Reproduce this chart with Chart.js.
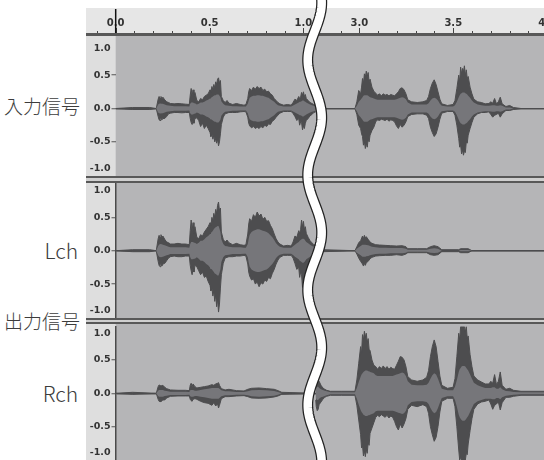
<!DOCTYPE html>
<html>
<head>
<meta charset="utf-8">
<script src="https://cdn.jsdelivr.net/npm/chart.js@4.4.0/dist/chart.umd.min.js"></script>
<style>
  body { margin: 0; background: #fff; }
  #wrap { position: relative; width: 544px; height: 460px; overflow: hidden; background: #fff; }
  #wrap canvas { position: absolute; }
  .lbl { position: absolute; font-family: "Noto Sans CJK JP"; font-weight: 300; color: #3c3c3c; white-space: nowrap; line-height: 1; }
  .bar { position: absolute; left: 86px; width: 458px; }
</style>
</head>
<body>
<div id="wrap">
  <div class="bar" style="top:8px;height:25px;background:#e6e6e6"></div>
  <div class="bar" style="top:33px;height:3px;background:#585858"></div>
  <div class="bar" style="top:176px;height:2px;background:#585858"></div>
  <div class="bar" style="top:178px;height:3px;background:#cfcfcf"></div>
  <div class="bar" style="top:181px;height:2px;background:#585858"></div>
  <div class="bar" style="top:318px;height:2px;background:#585858"></div>
  <div class="bar" style="top:320px;height:2px;background:#cfcfcf"></div>
  <div class="bar" style="top:322px;height:2px;background:#585858"></div>

  <div class="lbl" style="left:4px;top:96px;font-size:19px">入力信号</div>
  <div class="lbl" style="right:466px;top:240px;font-size:21px">Lch</div>
  <div class="lbl" style="left:4px;top:311px;font-size:19px">出力信号</div>
  <div class="lbl" style="right:466px;top:383px;font-size:21px">Rch</div>

  <canvas id="t1" width="474" height="140" style="left:86px;top:36px"></canvas>
  <canvas id="t2" width="474" height="135" style="left:86px;top:183px"></canvas>
  <canvas id="t3" width="474" height="136" style="left:86px;top:324px"></canvas>
  <canvas id="ruler" width="560" height="460" style="left:0;top:0"></canvas>
</div>
<script>
// time axis (seconds); the part between BREAK_FROM and BREAK_TO is cut out
const X_MIN = -0.001, X_MAX = 2.3546;
const BREAK_FROM = 1.06, BREAK_TO = 2.762;

const RULER_TICKS = [-0.1, 0.0, 0.1, 0.2, 0.3, 0.4, 0.5, 0.6, 0.7, 0.8, 0.9, 1.0,
  2.9, 3.0, 3.1, 3.2, 3.3, 3.4, 3.5, 3.6, 3.7, 3.8, 3.9, 4.0];
const RULER_LABEL_TIMES = [0.0, 0.5, 1.0, 3.0, 3.5, 4.0];
const RULER_LABELS = ['0.0', '0.5', '1.0', '3.0', '3.5', '4.0'];

const Y_TICKS = [-1, -0.5, 0, 0.5, 1];
const Y_LABELS = ['-1.0', '-0.5', '0.0', '0.5', '1.0'];

// [time, peak top, peak bottom, rms]
const IN_A = [
  [0.00,0,0,0],[0.09,0.015,0.015,0],[0.18,0.015,0.015,0],[0.215,0,0,0],
  [0.225,0.14,0.12,0.06],[0.23,0.18,0.17,0.07],[0.235,0.15,0.18,0.075],[0.24,0.18,0.14,0.075],
  [0.245,0.14,0.17,0.07],[0.25,0.17,0.15,0.07],[0.26,0.13,0.15,0.06],[0.27,0.10,0.12,0.05],
  [0.28,0.09,0.08,0.045],[0.29,0.075,0.07,0.04],[0.31,0.07,0.06,0.035],[0.33,0.075,0.06,0.035],
  [0.35,0.07,0.065,0.035],[0.37,0.065,0.06,0.035],[0.39,0.06,0.06,0.03],
  [0.395,0.20,0.15,0.07],[0.40,0.30,0.21,0.09],[0.405,0.19,0.24,0.09],[0.41,0.28,0.18,0.09],
  [0.415,0.18,0.22,0.08],[0.42,0.24,0.15,0.08],[0.43,0.12,0.14,0.06],[0.44,0.10,0.18,0.07],
  [0.45,0.15,0.27,0.09],[0.46,0.13,0.22,0.09],[0.47,0.18,0.30,0.10],[0.48,0.20,0.25,0.12],
  [0.49,0.22,0.30,0.13],[0.50,0.28,0.36,0.15],[0.505,0.24,0.42,0.16],[0.51,0.33,0.38,0.17],
  [0.515,0.28,0.46,0.18],[0.52,0.36,0.40,0.19],[0.525,0.31,0.50,0.20],[0.53,0.40,0.45,0.20],
  [0.535,0.36,0.52,0.21],[0.54,0.44,0.46,0.21],[0.545,0.46,0.56,0.21],[0.55,0.38,0.50,0.19],
  [0.555,0.42,0.38,0.17],[0.56,0.18,0.24,0.11],[0.57,0.12,0.13,0.07],[0.58,0.09,0.08,0.05],
  [0.59,0.12,0.07,0.045],[0.60,0.08,0.06,0.04],[0.62,0.06,0.06,0.035],[0.64,0.075,0.06,0.035],
  [0.66,0.06,0.05,0.03],[0.68,0.05,0.045,0.03],[0.69,0.06,0.05,0.03],
  [0.70,0.15,0.13,0.07],[0.705,0.25,0.22,0.12],[0.71,0.30,0.26,0.16],[0.72,0.27,0.29,0.18],
  [0.73,0.32,0.27,0.19],[0.74,0.29,0.30,0.19],[0.75,0.33,0.28,0.20],[0.76,0.30,0.30,0.20],
  [0.77,0.32,0.27,0.19],[0.78,0.27,0.29,0.19],[0.79,0.29,0.25,0.18],[0.80,0.25,0.27,0.17],
  [0.81,0.26,0.23,0.16],[0.82,0.22,0.24,0.14],[0.83,0.20,0.19,0.12],[0.84,0.15,0.17,0.10],
  [0.85,0.12,0.13,0.07],[0.86,0.09,0.10,0.05],[0.87,0.07,0.07,0.04],[0.89,0.05,0.045,0.03],
  [0.91,0.06,0.045,0.03],[0.93,0.05,0.045,0.03],
  [0.94,0.09,0.075,0.045],[0.95,0.14,0.12,0.06],[0.96,0.12,0.18,0.075],[0.97,0.18,0.15,0.09],
  [0.975,0.15,0.25,0.10],[0.98,0.17,0.20,0.10],[0.985,0.24,0.21,0.11],[0.99,0.20,0.32,0.12],
  [0.995,0.25,0.26,0.12],[1.00,0.18,0.30,0.11],[1.005,0.21,0.22,0.10],[1.01,0.15,0.18,0.09],
  [1.02,0.12,0.15,0.075],[1.03,0.09,0.11,0.06],[1.04,0.075,0.09,0.05],[1.05,0.06,0.06,0.04],
  [1.06,0.05,0.05,0.03]
];
const IN_B = [
  [2.762,0,0,0],[2.97,0,0,0],
  [2.98,0.10,0.09,0.04],[2.99,0.27,0.25,0.10],[3.00,0.22,0.30,0.13],[3.005,0.32,0.38,0.15],
  [3.01,0.45,0.42,0.17],[3.015,0.38,0.55,0.19],[3.02,0.52,0.50,0.20],[3.025,0.47,0.60,0.20],
  [3.03,0.56,0.52,0.20],[3.035,0.48,0.58,0.20],[3.04,0.54,0.46,0.19],[3.045,0.40,0.50,0.18],
  [3.05,0.44,0.40,0.17],[3.06,0.32,0.33,0.16],[3.07,0.26,0.28,0.15],[3.08,0.23,0.20,0.14],
  [3.09,0.20,0.17,0.13],[3.10,0.22,0.18,0.13],[3.11,0.19,0.16,0.13],[3.12,0.22,0.17,0.13],
  [3.13,0.20,0.18,0.13],[3.14,0.21,0.16,0.13],[3.15,0.19,0.19,0.13],[3.16,0.21,0.17,0.13],
  [3.17,0.20,0.18,0.13],[3.18,0.19,0.20,0.13],[3.19,0.22,0.26,0.14],[3.20,0.25,0.30,0.15],
  [3.21,0.30,0.24,0.16],[3.22,0.31,0.28,0.17],[3.23,0.28,0.25,0.16],[3.24,0.22,0.20,0.14],
  [3.25,0.13,0.12,0.09],[3.27,0.10,0.09,0.06],[3.30,0.09,0.08,0.06],[3.33,0.10,0.08,0.06],
  [3.35,0.12,0.10,0.06],[3.36,0.18,0.15,0.08],[3.37,0.30,0.28,0.12],[3.38,0.38,0.36,0.15],
  [3.39,0.43,0.42,0.16],[3.40,0.36,0.38,0.15],[3.41,0.25,0.28,0.12],[3.42,0.14,0.16,0.07],
  [3.43,0.07,0.07,0.04],[3.46,0.045,0.045,0.03],[3.49,0.06,0.045,0.03],
  [3.50,0.12,0.10,0.05],[3.51,0.30,0.25,0.10],[3.52,0.50,0.45,0.17],[3.525,0.40,0.58,0.20],
  [3.53,0.62,0.55,0.22],[3.535,0.52,0.68,0.23],[3.54,0.60,0.62,0.24],[3.545,0.55,0.70,0.24],
  [3.55,0.64,0.64,0.24],[3.555,0.50,0.66,0.23],[3.56,0.58,0.50,0.22],[3.565,0.45,0.52,0.21],
  [3.57,0.48,0.40,0.19],[3.58,0.32,0.30,0.16],[3.59,0.22,0.21,0.12],[3.60,0.14,0.13,0.09],
  [3.62,0.10,0.08,0.06],[3.64,0.09,0.06,0.05],[3.66,0.07,0.06,0.04],[3.68,0.075,0.05,0.04],
  [3.69,0.10,0.09,0.045],[3.70,0.08,0.13,0.05],[3.71,0.15,0.10,0.05],[3.72,0.07,0.09,0.04],
  [3.73,0.10,0.07,0.04],[3.74,0.17,0.13,0.05],[3.75,0.07,0.08,0.04],[3.77,0.03,0.03,0.015],
  [3.79,0.045,0.03,0.015],[3.81,0.015,0.015,0],[3.85,0,0,0],[4.00,0,0,0]
];
const L_A = [
  [0.00,0,0,0],[0.09,0.015,0.015,0],[0.18,0.015,0.015,0],[0.215,0,0,0],
  [0.225,0.18,0.16,0.07],[0.23,0.23,0.22,0.09],[0.235,0.20,0.24,0.10],[0.24,0.24,0.19,0.10],
  [0.245,0.19,0.23,0.095],[0.25,0.22,0.20,0.09],[0.26,0.17,0.19,0.08],[0.27,0.13,0.15,0.07],
  [0.28,0.12,0.11,0.06],[0.29,0.10,0.09,0.05],[0.31,0.10,0.08,0.05],[0.33,0.11,0.09,0.05],
  [0.35,0.10,0.09,0.05],[0.37,0.10,0.08,0.05],[0.39,0.09,0.08,0.045],
  [0.395,0.30,0.22,0.10],[0.40,0.46,0.30,0.13],[0.405,0.30,0.36,0.13],[0.41,0.42,0.26,0.13],
  [0.415,0.26,0.32,0.12],[0.42,0.36,0.22,0.12],[0.43,0.20,0.24,0.10],[0.44,0.18,0.30,0.12],
  [0.45,0.24,0.36,0.15],[0.46,0.22,0.32,0.15],[0.47,0.28,0.40,0.17],[0.48,0.32,0.38,0.20],
  [0.49,0.36,0.46,0.22],[0.50,0.42,0.52,0.25],[0.505,0.38,0.60,0.27],[0.51,0.50,0.56,0.28],
  [0.515,0.44,0.68,0.30],[0.52,0.56,0.60,0.32],[0.525,0.50,0.76,0.34],[0.53,0.62,0.66,0.35],
  [0.535,0.56,0.84,0.36],[0.54,0.68,0.72,0.37],[0.545,0.73,0.92,0.37],[0.55,0.60,0.80,0.33],
  [0.555,0.64,0.56,0.28],[0.56,0.28,0.36,0.17],[0.57,0.17,0.19,0.10],[0.58,0.13,0.11,0.07],
  [0.59,0.16,0.10,0.065],[0.60,0.12,0.09,0.06],[0.62,0.09,0.09,0.05],[0.64,0.11,0.08,0.05],
  [0.66,0.09,0.08,0.05],[0.68,0.08,0.07,0.045],[0.69,0.09,0.08,0.045],
  [0.70,0.25,0.20,0.10],[0.705,0.40,0.32,0.18],[0.71,0.48,0.38,0.24],[0.72,0.44,0.44,0.28],
  [0.73,0.54,0.42,0.30],[0.74,0.50,0.50,0.31],[0.75,0.58,0.47,0.32],[0.76,0.52,0.54,0.32],
  [0.77,0.55,0.48,0.31],[0.78,0.47,0.50,0.30],[0.79,0.50,0.44,0.29],[0.80,0.44,0.46,0.28],
  [0.81,0.45,0.40,0.26],[0.82,0.38,0.42,0.23],[0.83,0.33,0.34,0.20],[0.84,0.25,0.28,0.16],
  [0.85,0.18,0.20,0.11],[0.86,0.13,0.14,0.08],[0.87,0.10,0.10,0.06],[0.89,0.07,0.07,0.045],
  [0.91,0.08,0.07,0.045],[0.93,0.07,0.07,0.045],
  [0.94,0.13,0.11,0.065],[0.95,0.22,0.19,0.09],[0.96,0.20,0.28,0.11],[0.97,0.30,0.25,0.13],
  [0.975,0.26,0.40,0.15],[0.98,0.32,0.32,0.16],[0.985,0.46,0.36,0.17],[0.99,0.36,0.55,0.18],
  [0.995,0.44,0.42,0.18],[1.00,0.32,0.50,0.17],[1.005,0.36,0.36,0.15],[1.01,0.26,0.30,0.13],
  [1.02,0.20,0.24,0.11],[1.03,0.15,0.18,0.09],[1.04,0.12,0.14,0.07],[1.05,0.09,0.10,0.06],
  [1.06,0.08,0.08,0.05]
];
const L_B = [
  [2.762,0,0,0],[2.80,0.015,0.015,0],[2.97,0,0,0],
  [2.98,0.06,0.05,0.03],[2.99,0.12,0.11,0.05],[3.00,0.15,0.16,0.07],[3.01,0.22,0.20,0.09],
  [3.015,0.18,0.23,0.09],[3.02,0.23,0.19,0.09],[3.025,0.19,0.22,0.09],[3.03,0.21,0.18,0.085],
  [3.04,0.17,0.16,0.08],[3.05,0.13,0.12,0.07],[3.06,0.11,0.10,0.06],[3.08,0.09,0.08,0.05],
  [3.10,0.085,0.075,0.045],[3.13,0.08,0.07,0.045],[3.16,0.075,0.07,0.04],[3.19,0.07,0.06,0.04],
  [3.22,0.075,0.07,0.04],[3.24,0.06,0.05,0.03],[3.25,0.03,0.03,0.015],[3.30,0.03,0.03,0.015],
  [3.35,0.03,0.03,0.015],[3.37,0.06,0.06,0.03],[3.39,0.075,0.07,0.035],[3.41,0.06,0.06,0.03],
  [3.43,0.015,0.015,0],[3.52,0.015,0.015,0],[3.53,0.03,0.03,0.01],[3.57,0.03,0.03,0.01],
  [3.59,0,0,0],[4.00,0,0,0]
];
const R_A = [
  [0.00,0,0,0],[0.09,0.015,0.015,0],[0.215,0,0,0],
  [0.225,0.10,0.09,0.04],[0.23,0.125,0.12,0.05],[0.24,0.11,0.125,0.05],[0.25,0.12,0.10,0.05],
  [0.26,0.09,0.10,0.04],[0.27,0.07,0.07,0.035],[0.29,0.05,0.045,0.025],[0.33,0.045,0.04,0.025],
  [0.37,0.045,0.04,0.025],[0.39,0.04,0.04,0.02],
  [0.395,0.12,0.09,0.045],[0.40,0.15,0.11,0.05],[0.405,0.10,0.12,0.05],[0.41,0.14,0.09,0.05],
  [0.42,0.10,0.08,0.04],[0.43,0.08,0.09,0.04],[0.45,0.09,0.12,0.05],[0.47,0.10,0.14,0.06],
  [0.49,0.11,0.15,0.07],[0.51,0.13,0.18,0.08],[0.52,0.12,0.14,0.08],[0.53,0.14,0.19,0.08],
  [0.54,0.15,0.16,0.08],[0.545,0.16,0.22,0.08],[0.55,0.12,0.18,0.07],[0.56,0.07,0.08,0.045],
  [0.58,0.05,0.05,0.03],[0.60,0.06,0.05,0.03],[0.64,0.04,0.04,0.02],[0.68,0.035,0.035,0.02],
  [0.70,0.06,0.05,0.03],[0.72,0.075,0.07,0.045],[0.76,0.08,0.075,0.05],[0.80,0.07,0.07,0.045],
  [0.84,0.06,0.055,0.035],[0.86,0.04,0.04,0.02],[0.88,0.015,0.015,0],[1.06,0,0,0]
];
const R_B = [
  [2.762,0.12,0.10,0.05],[2.765,0.22,0.20,0.09],[2.77,0.25,0.26,0.10],[2.775,0.20,0.24,0.10],
  [2.78,0.18,0.17,0.08],[2.79,0.12,0.13,0.06],[2.80,0.08,0.09,0.05],[2.81,0.06,0.06,0.04],
  [2.82,0.045,0.045,0.03],[2.84,0.03,0.03,0.015],[2.90,0.03,0.03,0.015],[2.97,0.03,0.03,0.015],
  [2.98,0.20,0.18,0.08],[2.99,0.45,0.40,0.17],[3.00,0.70,0.62,0.25],[3.005,0.60,0.82,0.28],
  [3.01,0.88,0.78,0.30],[3.015,0.80,0.94,0.32],[3.02,0.93,0.86,0.33],[3.025,0.84,0.95,0.34],
  [3.03,0.90,0.84,0.34],[3.035,0.76,0.90,0.34],[3.04,0.82,0.74,0.33],[3.045,0.66,0.78,0.33],
  [3.05,0.64,0.60,0.32],[3.06,0.50,0.52,0.31],[3.07,0.42,0.44,0.30],[3.08,0.40,0.36,0.27],
  [3.09,0.36,0.33,0.26],[3.10,0.40,0.35,0.26],[3.11,0.37,0.32,0.26],[3.12,0.41,0.34,0.26],
  [3.13,0.37,0.36,0.26],[3.14,0.40,0.33,0.26],[3.15,0.36,0.37,0.26],[3.16,0.39,0.34,0.26],
  [3.17,0.37,0.36,0.26],[3.18,0.36,0.42,0.27],[3.19,0.42,0.50,0.28],[3.20,0.48,0.55,0.29],
  [3.21,0.55,0.46,0.30],[3.22,0.54,0.52,0.31],[3.23,0.50,0.46,0.30],[3.24,0.40,0.38,0.26],
  [3.25,0.25,0.24,0.18],[3.27,0.20,0.18,0.13],[3.30,0.18,0.20,0.12],[3.33,0.20,0.17,0.12],
  [3.35,0.24,0.20,0.13],[3.36,0.34,0.30,0.16],[3.37,0.55,0.50,0.22],[3.38,0.70,0.62,0.27],
  [3.39,0.80,0.72,0.30],[3.40,0.70,0.66,0.28],[3.41,0.48,0.50,0.22],[3.42,0.26,0.28,0.14],
  [3.43,0.12,0.12,0.07],[3.46,0.075,0.075,0.045],[3.49,0.09,0.075,0.045],
  [3.50,0.22,0.20,0.10],[3.51,0.55,0.50,0.20],[3.52,0.90,0.85,0.32],[3.525,0.80,1.0,0.36],
  [3.53,1.0,0.96,0.38],[3.535,1.0,1.0,0.40],[3.54,1.0,1.0,0.41],[3.545,1.0,1.0,0.41],
  [3.55,1.0,1.0,0.41],[3.555,0.92,1.0,0.40],[3.56,1.0,0.90,0.38],[3.565,0.82,0.92,0.36],
  [3.57,0.86,0.76,0.34],[3.58,0.58,0.56,0.28],[3.59,0.40,0.38,0.22],[3.60,0.26,0.24,0.16],
  [3.62,0.20,0.16,0.12],[3.64,0.17,0.13,0.10],[3.66,0.14,0.12,0.08],[3.68,0.14,0.10,0.08],
  [3.69,0.18,0.16,0.08],[3.70,0.15,0.24,0.09],[3.71,0.28,0.18,0.09],[3.72,0.13,0.16,0.07],
  [3.73,0.18,0.13,0.07],[3.74,0.32,0.25,0.09],[3.75,0.12,0.14,0.06],[3.77,0.06,0.06,0.035],
  [3.79,0.075,0.06,0.03],[3.81,0.045,0.045,0.02],[3.85,0.03,0.03,0.015],[4.00,0.03,0.03,0.015]
];

const TRACK_BG = '#b5b5b7', PANEL = '#dedede', PEAK = '#4d4d4f', RMS = '#76767a', ZERO = '#555';

// real time -> position on the broken axis
function u(t) { return t <= BREAK_FROM ? t : t - (BREAK_TO - BREAK_FROM); }

// y scale that keeps the end labels inside the track, like Audacity does
class TrackScale extends Chart.LinearScale {
  _computeLabelItems(chartArea) {
    const items = super._computeLabelItems(chartArea);
    items.forEach(it => {
      const tr = it.options.translation;
      tr[1] = Math.min(Math.max(tr[1], this.top + 6.5), this.bottom - 7);
    });
    return items;
  }
}
TrackScale.id = 'track';
TrackScale.defaults = Chart.LinearScale.defaults;
Chart.register(TrackScale);

const trackBg = {
  id: 'trackBg',
  beforeDraw(chart) {
    const { ctx, chartArea: a, width, height } = chart;
    ctx.save();
    ctx.fillStyle = PANEL;
    ctx.fillRect(0, 0, a.left, height);
    ctx.fillStyle = TRACK_BG;
    ctx.fillRect(a.left, 0, width - a.left, height);
    ctx.restore();
  }
};

function band(rows, hi, lo, color, line) {
  return [
    { data: rows.map(r => ({ x: u(r[0]), y: hi(r) })), fill: '+1', backgroundColor: color,
      borderColor: line ? color : 'transparent', borderWidth: 1, pointRadius: 0, tension: 0 },
    { data: rows.map(r => ({ x: u(r[0]), y: lo(r) })), fill: false,
      borderColor: line ? color : 'transparent', borderWidth: 1, pointRadius: 0, tension: 0 }
  ];
}

function makeTrack(id, a, b, padTop, padBottom, border) {
  const datasets = [
    ...band(a, r => r[3], r => -r[3], RMS, false),
    ...band(b, r => r[3], r => -r[3], RMS, false),
    ...band(a, r => r[1], r => -r[2], PEAK, true),
    ...band(b, r => r[1], r => -r[2], PEAK, true)
  ];
  new Chart(document.getElementById(id), {
    type: 'line',
    data: { datasets },
    options: {
      responsive: false,
      animation: false,
      events: [],
      layout: { padding: { top: padTop, bottom: padBottom, left: 0, right: 0 } },
      plugins: { legend: { display: false }, tooltip: { enabled: false } },
      scales: {
        x: { type: 'linear', min: X_MIN, max: X_MAX, display: false },
        y: {
          type: 'track', min: -1, max: 1, position: 'left',
          afterBuildTicks: s => { s.ticks = Y_TICKS.map(v => ({ value: v })); },
          afterFit: s => { s.width = 29.5; s.paddingTop = 0; s.paddingBottom = 0; },
          ticks: {
            callback: (v, i) => Y_LABELS[i],
            font: { family: 'DejaVu Sans', size: 9.5, weight: 'bold' },
            color: '#333',
            padding: 1
          },
          grid: {
            color: c => (c.tick && c.tick.value === 0 ? ZERO : 'transparent'),
            lineWidth: 1.5,
            tickLength: 4,
            tickWidth: 1,
            tickColor: c => (c.tick && Math.abs(c.tick.value) === 1 ? 'transparent' : '#555')
          },
          border: { display: border, color: '#4a4a4a', width: 1.5 }
        }
      }
    },
    plugins: [trackBg]
  });
}

makeTrack('t1', IN_A, IN_B, 5.8, 0.8, false);
makeTrack('t2', L_A, L_B, 1, 0.6, true);
makeTrack('t3', R_A, R_B, 2.6, 0, true);

// time ruler on top, plus the wavy break line over everything
const rulerMarks = {
  id: 'rulerMarks',
  afterDraw(chart) {
    const { ctx } = chart;
    const sx = chart.scales.x;
    ctx.save();
    ctx.strokeStyle = '#444';
    ctx.lineWidth = 1;
    RULER_TICKS.forEach(t => {
      const x = Math.round(sx.getPixelForValue(u(t))) + 0.5;
      const len = RULER_LABEL_TIMES.includes(t) ? 5 : 2;
      ctx.beginPath();
      ctx.moveTo(x, sx.bottom - len);
      ctx.lineTo(x, sx.bottom);
      ctx.stroke();
    });
    // play cursor at 0
    const cx = sx.getPixelForValue(u(0));
    ctx.strokeStyle = '#111';
    ctx.lineWidth = 1.5;
    ctx.beginPath();
    ctx.moveTo(cx, 9);
    ctx.lineTo(cx, sx.bottom);
    ctx.stroke();

    // wavy break
    const x0 = sx.getPixelForValue(BREAK_FROM);
    const path = new Path2D();
    for (let y = -10; y <= 470; y += 2) {
      const x = x0 - 7 * Math.cos(2 * Math.PI * (y - 60) / 115);
      if (y === -10) path.moveTo(x, y); else path.lineTo(x, y);
    }
    ctx.lineJoin = 'round';
    ctx.strokeStyle = '#222';
    ctx.lineWidth = 11;
    ctx.stroke(path);
    ctx.strokeStyle = '#fff';
    ctx.lineWidth = 8.5;
    ctx.stroke(path);
    ctx.restore();
  }
};

new Chart(document.getElementById('ruler'), {
  type: 'line',
  data: { datasets: [] },
  options: {
    responsive: false,
    animation: false,
    events: [],
    layout: { padding: { left: 115.5, top: 0, right: 0, bottom: 0 } },
    plugins: { legend: { display: false }, tooltip: { enabled: false } },
    scales: {
      x: {
        type: 'linear', position: 'top', min: X_MIN, max: X_MAX,
        afterBuildTicks: s => { s.ticks = RULER_LABEL_TIMES.map(t => ({ value: u(t) })); },
        afterFit: s => { s.height = 33; },
        grid: { display: false, drawTicks: false },
        border: { display: false },
        ticks: {
          autoSkip: false,
          maxRotation: 0,
          callback: (v, i) => RULER_LABELS[i],
          font: { family: 'DejaVu Sans', size: 10, weight: 'bold' },
          color: '#333',
          padding: 4
        }
      },
      y: { display: false }
    }
  },
  plugins: [rulerMarks]
});
</script>
</body>
</html>
